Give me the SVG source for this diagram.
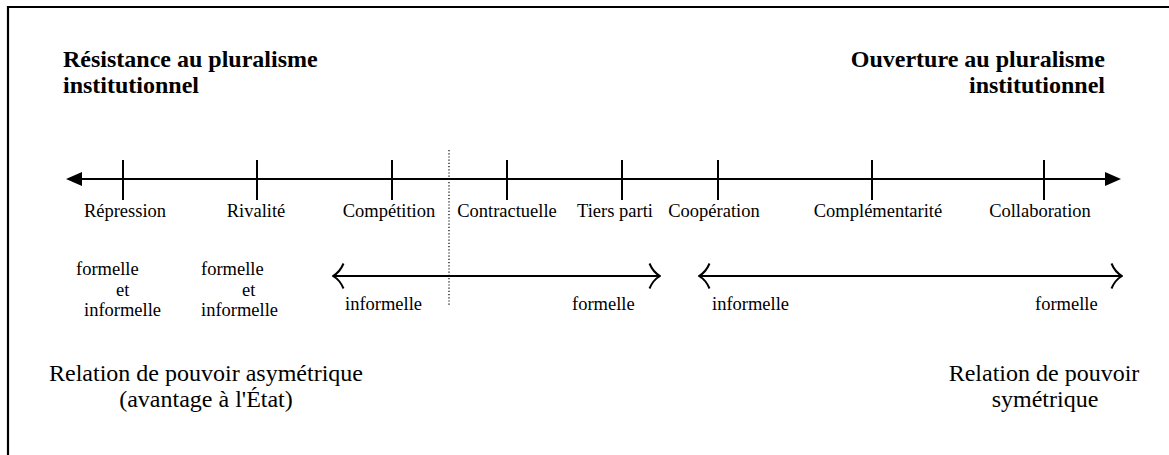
<svg xmlns="http://www.w3.org/2000/svg" width="1169" height="455" viewBox="0 0 1169 455">
  <style>
    .t { font-family: "Liberation Serif", "Times New Roman", serif; fill: #000; }
    .title { font-size: 24px; font-weight: bold; }
    .lab { font-size: 18.5px; }
    .big { font-size: 24px; }
    .ln { stroke: #000; stroke-width: 2; fill: none; }
    .tick { stroke: #000; stroke-width: 2; }
    .dot { stroke: #000; stroke-width: 1.2; stroke-dasharray: 1.2 2; }
  </style>
  <defs>
    <marker id="tri" viewBox="0 0 16 14" refX="0" refY="7" markerWidth="16" markerHeight="14" markerUnits="userSpaceOnUse" orient="auto-start-reverse">
      <path d="M0,0 L16,7 L0,14 Z" fill="#000"/>
    </marker>
    <marker id="barb" viewBox="0 0 13 28" refX="12" refY="14" markerWidth="13" markerHeight="28" markerUnits="userSpaceOnUse" orient="auto-start-reverse">
      <path d="M1.5,1.5 Q5,10 12,14 Q5,18 1.5,26.5" fill="none" stroke="#000" stroke-width="2"/>
    </marker>
  </defs>

  <rect width="1169" height="455" fill="#fff"/>
  <!-- frame -->
  <path d="M8,455 L8,7 L1169,7" fill="none" stroke="#000" stroke-width="2.2"/>

  <g id="connectors">
    <line class="ln" x1="82" y1="179" x2="1105" y2="179" marker-start="url(#tri)" marker-end="url(#tri)"/>
    <line class="dot" x1="449" y1="150" x2="449" y2="306"/>
    <line class="ln" x1="333" y1="276" x2="660" y2="276" stroke-width="2.4" marker-start="url(#barb)" marker-end="url(#barb)"/>
    <line class="ln" x1="699" y1="276" x2="1122" y2="276" stroke-width="2.4" marker-start="url(#barb)" marker-end="url(#barb)"/>
  </g>

  <g id="title-left">
    <text class="t title" x="63" y="67">Résistance au pluralisme</text>
    <text class="t title" x="63" y="93">institutionnel</text>
  </g>
  <g id="title-right">
    <text class="t title" x="1105" y="67" text-anchor="end">Ouverture au pluralisme</text>
    <text class="t title" x="1105" y="93" text-anchor="end">institutionnel</text>
  </g>

  <g id="repression"><line class="tick" x1="123" y1="160" x2="123" y2="200"/><text class="t lab" x="125" y="217" text-anchor="middle">Répression</text></g>
  <g id="rivalite"><line class="tick" x1="257" y1="160" x2="257" y2="200"/><text class="t lab" x="256" y="217" text-anchor="middle">Rivalité</text></g>
  <g id="competition"><line class="tick" x1="392" y1="160" x2="392" y2="200"/><text class="t lab" x="389" y="217" text-anchor="middle">Compétition</text></g>
  <g id="contractuelle"><line class="tick" x1="507" y1="160" x2="507" y2="200"/><text class="t lab" x="507" y="217" text-anchor="middle">Contractuelle</text></g>
  <g id="tiers-parti"><line class="tick" x1="622" y1="160" x2="622" y2="200"/><text class="t lab" x="615" y="217" text-anchor="middle">Tiers parti</text></g>
  <g id="cooperation"><line class="tick" x1="718" y1="160" x2="718" y2="200"/><text class="t lab" x="714" y="217" text-anchor="middle">Coopération</text></g>
  <g id="complementarite"><line class="tick" x1="872" y1="160" x2="872" y2="200"/><text class="t lab" x="878" y="217" text-anchor="middle">Complémentarité</text></g>
  <g id="collaboration"><line class="tick" x1="1044" y1="160" x2="1044" y2="200"/><text class="t lab" x="1040" y="217" text-anchor="middle">Collaboration</text></g>

  <g id="forme-repression">
    <text class="t lab" x="76" y="275">formelle</text>
    <text class="t lab" x="116" y="296">et</text>
    <text class="t lab" x="84" y="316">informelle</text>
  </g>
  <g id="forme-rivalite">
    <text class="t lab" x="201" y="275">formelle</text>
    <text class="t lab" x="242" y="296">et</text>
    <text class="t lab" x="201" y="316">informelle</text>
  </g>
  <g id="range-1">
    <text class="t lab" x="345" y="310">informelle</text>
    <text class="t lab" x="572" y="310">formelle</text>
  </g>
  <g id="range-2">
    <text class="t lab" x="712" y="310">informelle</text>
    <text class="t lab" x="1035" y="310">formelle</text>
  </g>

  <g id="asym">
    <text class="t big" x="206" y="381" text-anchor="middle">Relation de pouvoir asymétrique</text>
    <text class="t big" x="206" y="407" text-anchor="middle">(avantage à l'État)</text>
  </g>
  <g id="sym">
    <text class="t big" x="1044" y="381" text-anchor="middle">Relation de pouvoir</text>
    <text class="t big" x="1045" y="407" text-anchor="middle">symétrique</text>
  </g>
</svg>
